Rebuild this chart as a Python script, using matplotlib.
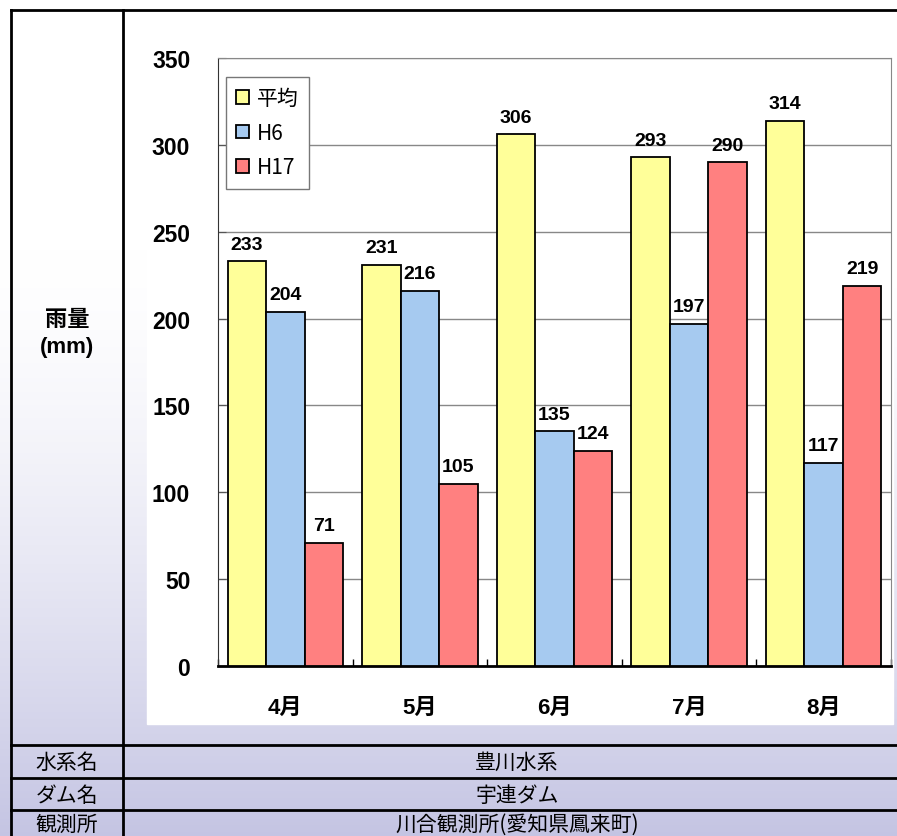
## 月別雨量 (宇連ダム) bar chart
import numpy as np
import matplotlib.pyplot as plt
from matplotlib.patches import Rectangle

months = ['4月', '5月', '6月', '7月', '8月']
series = ['平均', 'H6', 'H17']
avg = [233, 231, 306, 293, 314]
h6 = [204, 216, 135, 197, 117]
h17 = [71, 105, 124, 290, 219]
colors = ['#FFFF99', '#A6CAF0', '#FF8080']
yticks = [0, 50, 100, 150, 200, 250, 300, 350]

W, H = 897, 837
fig = plt.figure(figsize=(W/100, H/100), dpi=100)

# background: white fading to lavender toward the bottom
bg = fig.add_axes([0, 0, 1, 1]); bg.set_axis_off()
t = np.clip((np.arange(H) - 250) / (H - 250), 0, 1)[:, None] ** 1.5
top = np.array([1.0, 1.0, 1.0]); bot = np.array([0.77, 0.77, 0.89])
img = top + (bot - top) * t[:, :, None] * np.ones((1, W, 1))
bg.imshow(img, extent=[0, W, H, 0], aspect='auto')
bg.set_xlim(0, W); bg.set_ylim(H, 0)
# white chart area
bg.add_patch(Rectangle((147, 11), 893-147, 725-11, color='white', zorder=2))
# table lines
lw = 2
bg.plot([11, 11], [11, H], color='black', lw=lw, zorder=3)
bg.plot([123, 123], [11, H], color='black', lw=lw, zorder=3)
for y in [11, 746, 779, 811]:
    bg.plot([11, W], [y, y], color='black', lw=lw, zorder=3)

jp = ['Noto Sans CJK JP', 'DejaVu Sans']
bg.text(67, 334, '雨量\n(mm)', ha='center', va='center', fontsize=16, fontweight='bold',
        family=['Liberation Sans', 'Noto Sans CJK JP'], linespacing=1.35, zorder=4)
rows = [('水系名', '豊川水系', 763), ('ダム名', '宇連ダム', 796), ('観測所', '川合観測所(愛知県鳳来町)', 825)]
for a, b, y in rows:
    bg.text(67, y, a, ha='center', va='center', fontsize=15, family=jp, zorder=4)
    bg.text(517, y, b, ha='center', va='center', fontsize=15, family=jp, zorder=4)

# chart
ax = fig.add_axes([218/W, 1-667/H, (891-218)/W, (667-59)/H])
x = np.arange(len(months))
bw = 0.286
for i, (vals, name) in enumerate(zip([avg, h6, h17], series)):
    bars = ax.bar(x + (i-1)*bw, vals, bw, color=colors[i], edgecolor='black', lw=1.3,
                  label=name, zorder=3)
    for b, v in zip(bars, vals):
        ax.annotate(str(v), (b.get_x()+b.get_width()/2, v), xytext=(0, 6),
                    textcoords='offset points', ha='center', va='bottom',
                    fontsize=14, fontweight='bold', family='Liberation Sans', zorder=4)

ax.set_xlim(-0.5, len(months)-0.5)
ax.set_ylim(0, 350)
ax.set_yticks(yticks)
ax.set_yticklabels([str(v) for v in yticks], fontsize=16.5, fontweight='bold', family='Liberation Sans')
ax.set_xticks(x)
ax.set_xticklabels(months, fontsize=16, fontweight='bold', family=['Liberation Sans', 'Noto Sans CJK JP'])
ax.set_xticks(np.arange(len(months)+1)-0.5, minor=True)
ax.tick_params(axis='x', which='major', length=0, pad=22)
ax.tick_params(axis='x', which='minor', direction='in', length=5, width=1)
ax.tick_params(axis='y', direction='in', length=6, color='#555555', pad=20)
ax.yaxis.grid(True, color='#888888', lw=1)
ax.set_axisbelow(True)
for s in ['top', 'right']:
    ax.spines[s].set_color('#888888')
ax.spines['left'].set_color('#333333')
ax.spines['bottom'].set_color('black'); ax.spines['bottom'].set_linewidth(2)
ax.set_facecolor('white')

leg = ax.legend(loc='upper left', bbox_to_anchor=(8/673, 1-19/608), borderaxespad=0,
                prop={'family': jp, 'size': 15},
                fancybox=False, framealpha=1, edgecolor='#777777', handlelength=0.6, handleheight=0.6,
                handletextpad=0.4, labelspacing=0.6, borderpad=0.5)
leg.get_frame().set_linewidth(1)

plt.savefig('out.png', dpi=100)
